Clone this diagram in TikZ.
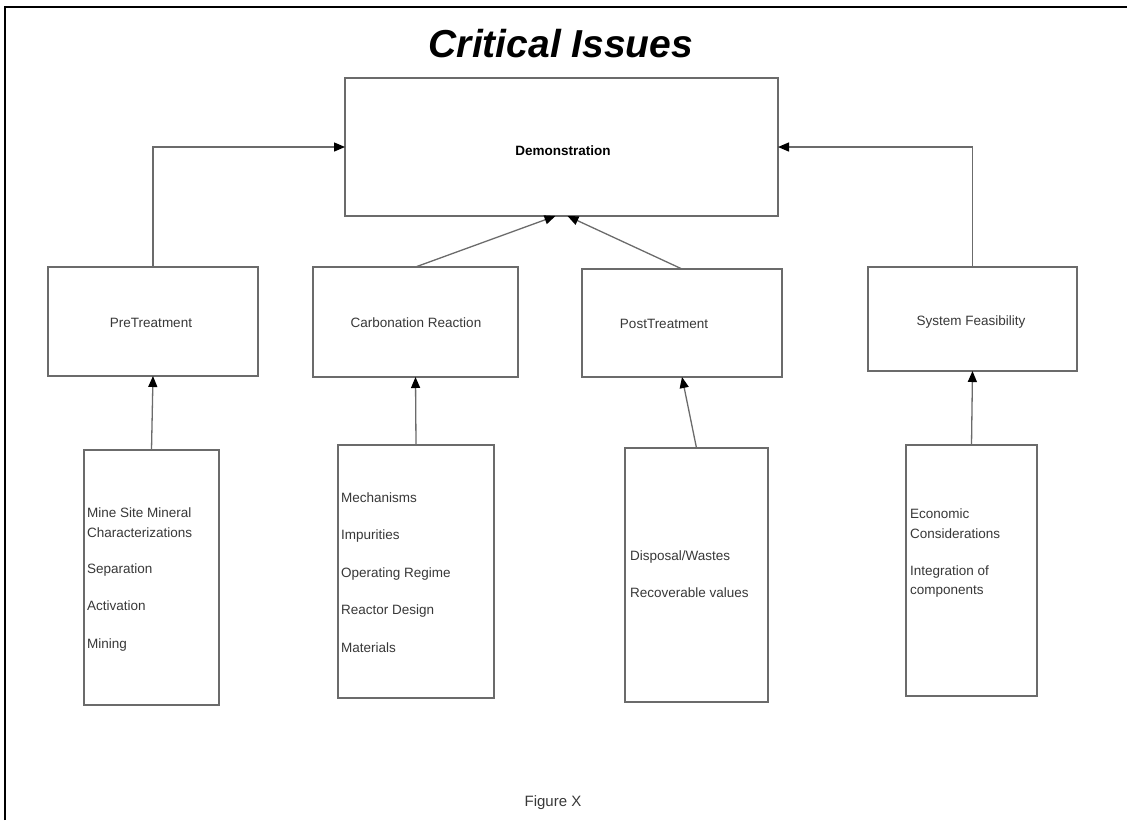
\documentclass[tikz,border=0pt]{standalone}
\usepackage{fontspec}
\setmainfont{Liberation Sans}
\usetikzlibrary{arrows.meta}
\definecolor{linegray}{rgb}{0.42,0.42,0.42}
\definecolor{txtgray}{rgb}{0.22,0.22,0.22}
\tikzset{
  box/.style={draw=linegray, line width=1.3pt, rectangle, inner sep=0pt, outer sep=0pt, fill=white},
  conn/.style={draw=linegray, line width=1.3pt, -{Triangle[length=11pt,width=9pt,color=black]}},
  lbl/.style={font=\fontsize{13.5}{16}\selectfont, text=txtgray, inner sep=0pt, anchor=base},
  item/.style={font=\fontsize{13.5}{16}\selectfont, text=txtgray, inner sep=0pt, anchor=base west},
  frame/.style={draw=black, line width=2.2pt}
}
\begin{document}
\begin{tikzpicture}[x=1pt,y=-1pt]
\useasboundingbox (0,0) rectangle (1127,820);
% outer frame (left and top only)
\draw[frame] (5,820) -- (5,7) -- (1127,7);
% title
\node[font=\fontsize{39}{44}\selectfont\bfseries\itshape, inner sep=0pt, anchor=base] (title) at (561,57) {Critical Issues};
% demonstration
\node[box, minimum width=433pt, minimum height=138pt] (demo) at (561.5,147) {};
\node[font=\fontsize{13.5}{16}\selectfont\bfseries, inner sep=0pt, anchor=base] (demotxt) at (563,155) {Demonstration};
% middle boxes
\node[box, minimum width=210pt, minimum height=109pt] (pre) at (153,321.5) {};
\node[box, minimum width=205pt, minimum height=110pt] (carb) at (415.5,322) {};
\node[box, minimum width=200pt, minimum height=108pt] (post) at (682,323) {};
\node[box, minimum width=209pt, minimum height=104pt] (sys) at (972.5,319) {};
\node[lbl] (pretxt) at (151,327) {PreTreatment};
\node[lbl] (carbtxt) at (416,327) {Carbonation Reaction};
\node[lbl] (posttxt) at (664,328) {PostTreatment};
\node[lbl] (systxt) at (971,325) {System Feasibility};
% bottom boxes
\node[box, minimum width=135pt, minimum height=255pt] (b1) at (151.5,577.5) {};
\node[box, minimum width=156pt, minimum height=253pt] (b2) at (416,571.5) {};
\node[box, minimum width=143pt, minimum height=254pt] (b3) at (696.5,575) {};
\node[box, minimum width=131pt, minimum height=251pt] (b4) at (971.5,570.5) {};
% bottom texts
\node[item] (t11) at (87,517) {Mine Site Mineral};
\node[item] (t12) at (87,537) {Characterizations};
\node[item] (t13) at (87,573) {Separation};
\node[item] (t14) at (87,610) {Activation};
\node[item] (t15) at (87,648) {Mining};
\node[item] (t21) at (341,502) {Mechanisms};
\node[item] (t22) at (341,539) {Impurities};
\node[item] (t23) at (341,577) {Operating Regime};
\node[item] (t24) at (341,614) {Reactor Design};
\node[item] (t25) at (341,652) {Materials};
\node[item] (t31) at (630,560) {Disposal/Wastes};
\node[item] (t32) at (630,597) {Recoverable values};
\node[item] (t41) at (910,518) {Economic};
\node[item] (t42) at (910,538) {Considerations};
\node[item] (t43) at (910,575) {Integration of};
\node[item] (t44) at (910,594) {components};
% figure caption
\node[font=\fontsize{15}{18}\selectfont, text=txtgray, inner sep=0pt, anchor=base] (cap) at (553,806) {Figure X};
% connectors
\coordinate (dl) at ([xshift=-6pt]demo.south);
\coordinate (dr) at ([xshift=6pt]demo.south);
\draw[conn] (pre.north) |- (demo.west);
\draw[conn] (sys.north) |- (demo.east);
\draw[conn] (carb.north) -- (dl);
\draw[conn] (post.north) -- (dr);
\draw[conn] (b1.north) -- (pre.south);
\draw[conn] (b2.north) -- (carb.south);
\draw[conn] (b3.north) -- (post.south);
\draw[conn] (b4.north) -- (sys.south);
\end{tikzpicture}
\end{document}
